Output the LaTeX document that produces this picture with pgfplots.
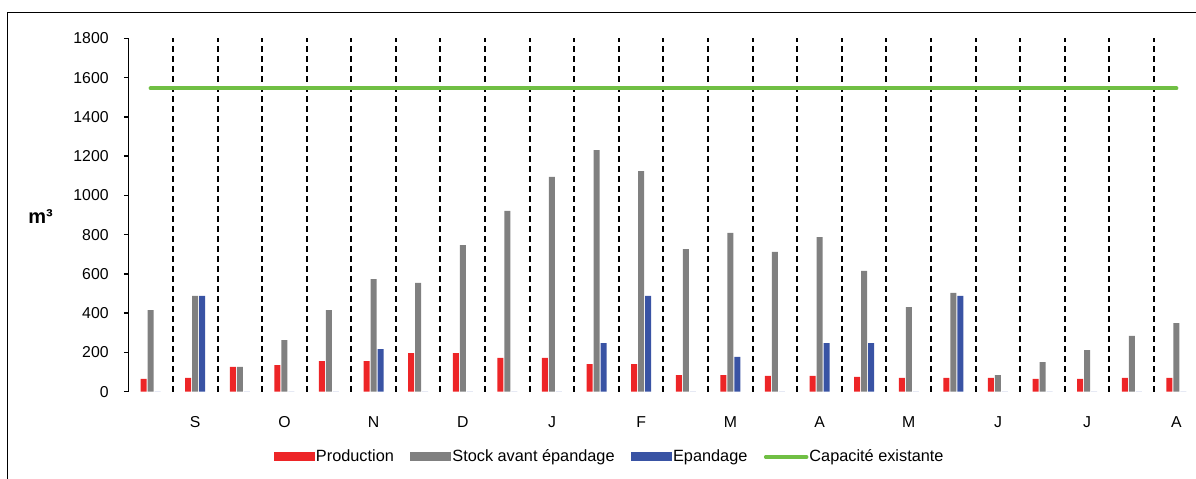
\documentclass[border=0pt]{standalone}
\usepackage{pgfplots}
\pgfplotsset{compat=1.18}
\usepackage{fontspec}
\setmainfont{Liberation Sans}
\definecolor{cRed}{RGB}{237,37,39}
\definecolor{cGray}{RGB}{128,128,128}
\definecolor{cBlue}{RGB}{57,83,164}
\definecolor{cGreen}{RGB}{112,191,68}
\begin{document}
\fontsize{15.8bp}{18bp}\selectfont
\begin{tikzpicture}
\path[use as bounding box, clip] (0,0) rectangle (1196bp,479bp);
\draw[line width=1.3bp] (7.3bp,-5bp) -- (7.3bp,466.7bp) -- (1210bp,466.7bp);
\node[font=\bfseries\fontsize{20bp}{22bp}\selectfont] at (40.5bp,262.3bp) {m³};
\begin{axis}[
  at={(128.3bp,87.3bp)}, anchor=south west,
  scale only axis, width=1070.4bp, height=353.3bp,
  xmin=-0.5, xmax=23.5, ymin=0, ymax=1800,
  ybar, bar width=6bp,
  axis lines=left,
  x axis line style={draw=none},
  y axis line style={-, line width=1.5bp, black},
  xtick={1,3,...,23},
  xticklabels={S,O,N,D,J,F,M,A,M,J,J,A},
  xtick style={draw=none},
  ytick={0,200,...,1800},
  ytick style={line width=1.5bp, black},
  tick align=outside,
  major tick length=4.5bp,
  tick label style={font=\fontsize{15.8bp}{18bp}\selectfont},
  /pgf/number format/assume math mode=true,
  /pgf/number format/1000 sep={},
  yticklabel style={inner sep=0pt, xshift=-15bp},
  xticklabel style={anchor=center, yshift=-25.6bp, inner sep=0pt},
  extra x ticks={0.5,1.5,...,22.5},
  extra x tick labels={},
  extra x tick style={grid=major, major tick length=0pt, major grid style={black, line width=2bp, dash pattern=on 6bp off 4bp}},
  legend style={at={(axis description cs:0.1361,-0.1848)}, anchor=west, draw=none, fill=none,
    inner sep=0pt, outer sep=0pt, font=\fontsize{16.3bp}{18bp}\selectfont,
    legend columns=-1,
    /tikz/every even column/.append style={column sep=15.5bp},
    nodes={inner sep=1bp}},
  legend image code/.code={\fill[#1] (0bp,-4.5bp) rectangle (41bp,4.5bp);},
]
\addplot[fill=cRed, draw=none, bar shift=-7bp] coordinates {
(0,65) (1,70) (2,126) (3,136) (4,156) (5,156) (6,197) (7,197) (8,172) (9,172) (10,141) (11,141)
(12,85) (13,85) (14,80) (15,80) (16,75) (17,70) (18,70) (19,70) (20,65) (21,65) (22,70) (23,70)};
\addlegendentry{Production}
\addplot[fill=cGray, draw=none, bar shift=0bp] coordinates {
(0,416) (1,488) (2,126) (3,263) (4,416) (5,574) (6,554) (7,747) (8,921) (9,1094) (10,1231) (11,1124)
(12,727) (13,809) (14,712) (15,788) (16,615) (17,431) (18,503) (19,85) (20,151) (21,212) (22,284) (23,350)};
\addlegendentry{Stock avant épandage}
\addplot[fill=cBlue, draw=none, bar shift=7bp] coordinates {
(0,0) (1,488) (2,0) (3,0) (4,0) (5,217) (6,0) (7,0) (8,0) (9,0) (10,248) (11,488)
(12,0) (13,177) (14,0) (15,248) (16,248) (17,0) (18,488) (19,0) (20,0) (21,0) (22,0) (23,0)};
\addlegendentry{Epandage}
\addplot[sharp plot, color=cGreen, line width=4bp, line cap=round,
  legend image code/.code={\draw[cGreen, line width=3.5bp] (0bp,0bp) -- (41bp,0bp);}] coordinates {
(0,1545) (1,1545) (2,1545) (3,1545) (4,1545) (5,1545) (6,1545) (7,1545) (8,1545) (9,1545) (10,1545) (11,1545)
(12,1545) (13,1545) (14,1545) (15,1545) (16,1545) (17,1545) (18,1545) (19,1545) (20,1545) (21,1545) (22,1545) (23,1545)};
\addlegendentry{Capacité existante}
\end{axis}
\end{tikzpicture}
\end{document}
